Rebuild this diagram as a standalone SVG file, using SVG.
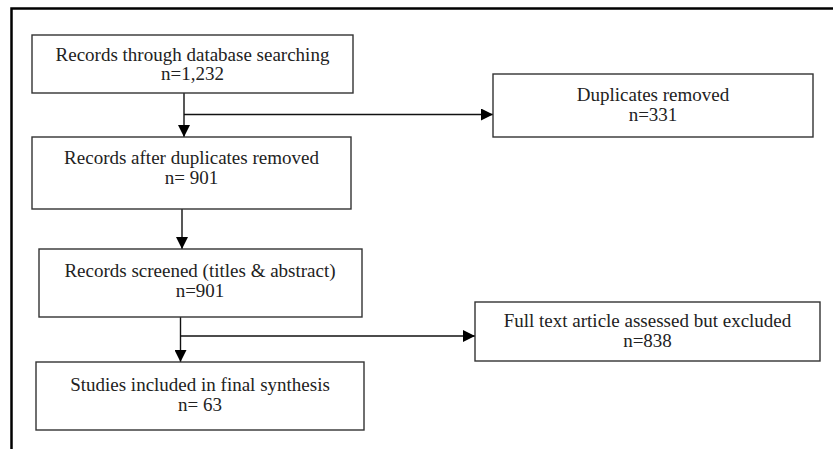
<svg xmlns="http://www.w3.org/2000/svg" width="833" height="449" viewBox="0 0 833 449">
<defs>
<style>
.box{fill:#fff;stroke:#333;stroke-width:1.4}
.t{font-family:"Liberation Serif","Times New Roman",serif;font-size:19px;fill:#222;text-anchor:middle}
.c{fill:none;stroke:#111;stroke-width:1.4}
.frame{fill:none;stroke:#000;stroke-width:2.5}
</style>
<marker id="ah" markerUnits="userSpaceOnUse" markerWidth="12" markerHeight="12" viewBox="0 0 10 10" refX="10" refY="5" orient="auto">
<path d="M0,0 L10,5 L0,10 z" fill="#000"/>
</marker>
</defs>
<rect width="833" height="449" fill="#fff"/>
<path class="frame" d="M11.5,449 V8.5 H833"/>
<g id="connectors">
<path class="c" d="M184,93 V137" marker-end="url(#ah)"/>
<path class="c" d="M184,114.5 H493" marker-end="url(#ah)"/>
<path class="c" d="M182,209 V249" marker-end="url(#ah)"/>
<path class="c" d="M180.5,317 V362" marker-end="url(#ah)"/>
<path class="c" d="M180.5,336 H475" marker-end="url(#ah)"/>
</g>
<g id="n1">
<rect class="box" x="32" y="35" width="321" height="58"/>
<text class="t" x="192.5" y="61">Records through database searching</text>
<text class="t" x="192.5" y="80">n=1,232</text>
</g>
<g id="n2">
<rect class="box" x="32" y="137" width="319" height="72"/>
<text class="t" x="191.5" y="164">Records after duplicates removed</text>
<text class="t" x="191.5" y="184">n= 901</text>
</g>
<g id="n3">
<rect class="box" x="493" y="74" width="320" height="63"/>
<text class="t" x="653" y="100.5">Duplicates removed</text>
<text class="t" x="653" y="120.5">n=331</text>
</g>
<g id="n4">
<rect class="box" x="39" y="249" width="323" height="68"/>
<text class="t" x="200" y="277">Records screened (titles &amp; abstract)</text>
<text class="t" x="200" y="297">n=901</text>
</g>
<g id="n5">
<rect class="box" x="475" y="302" width="345" height="59"/>
<text class="t" x="647.5" y="327">Full text article assessed but excluded</text>
<text class="t" x="647.5" y="347">n=838</text>
</g>
<g id="n6">
<rect class="box" x="36" y="362" width="328" height="68"/>
<text class="t" x="200" y="391">Studies included in final synthesis</text>
<text class="t" x="200" y="411">n= 63</text>
</g>
</svg>
